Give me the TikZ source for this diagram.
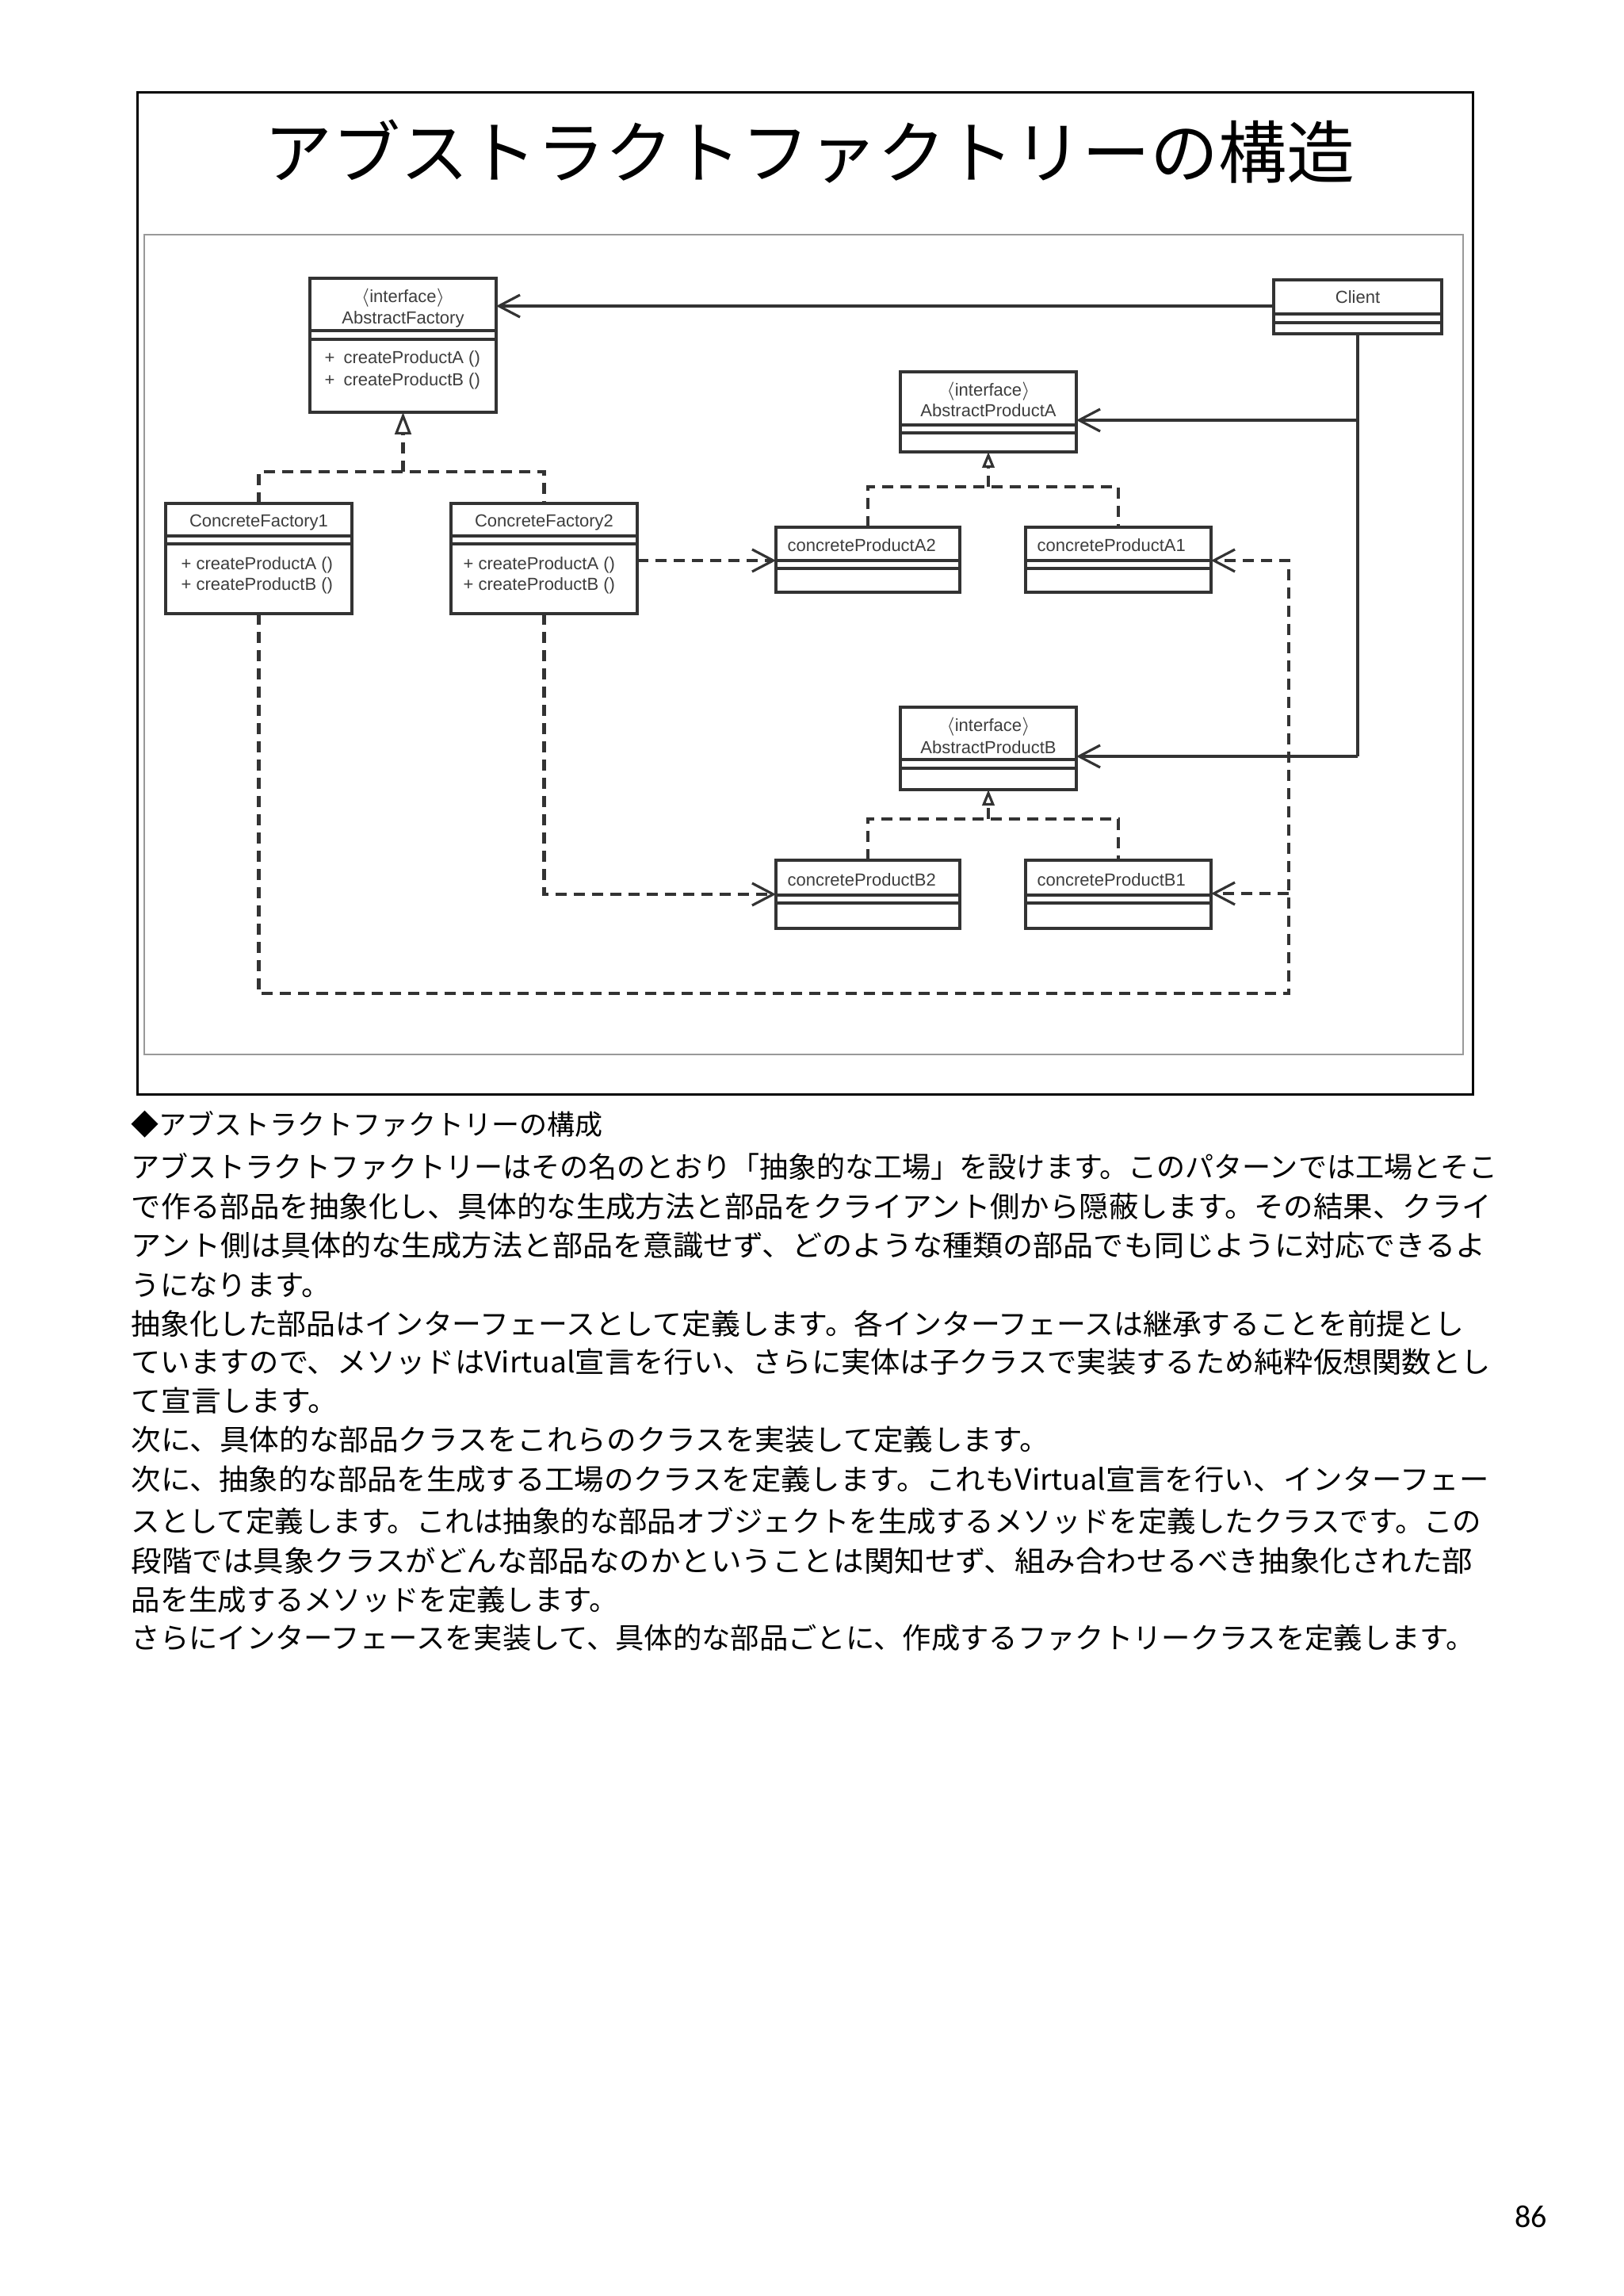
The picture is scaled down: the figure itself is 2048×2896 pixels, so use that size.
\documentclass[tikz,border=0pt]{standalone}
\usepackage{graphicx}
\usepackage{fontspec}
\setmainfont{Liberation Sans}
\newfontfamily\jp{Noto Sans CJK JP}
\newfontfamily\pagefont{Carlito}
\usetikzlibrary{arrows.meta}
\definecolor{lg}{gray}{0.2}
\definecolor{tg}{gray}{0.24}
\definecolor{fg}{gray}{0.6}
\newcommand\umlclass[7]{%
  \node[cls, minimum width={(#4-#2)*0.3pt}, minimum height={(#5-#3)*0.3pt}] (#1) at (#2,#3) {};
  \draw[cline] (#1.west |- 0,#6) -- (#1.east |- 0,#6);
  \draw[cline] (#1.west |- 0,#7) -- (#1.east |- 0,#7);
}
\begin{document}
\begin{tikzpicture}[x=0.3pt,y=-0.3pt,
  cls/.style={draw=lg, line width=1.1pt, inner sep=0pt, outer sep=0pt, anchor=north west, fill=white},
  cline/.style={draw=lg, line width=1.1pt},
  t/.style={font=\fontsize{6.6}{8}\selectfont, text=tg, inner sep=0pt, anchor=base},
  tl/.style={t, anchor=base west},
  sl/.style={draw=lg, line width=0.95pt},
  assoc/.style={sl, -{Straight Barb[length=8pt,width=8.4pt,line width=0.95pt]}},
  dl/.style={draw=lg, line width=1.45pt, dash pattern=on 4.2pt off 2.7pt},
  dep/.style={dl, -{Straight Barb[length=8pt,width=8.4pt,line width=0.95pt]}},
  realL/.style={dl, -{Triangle[open,fill=white,length=8.4pt,width=6.2pt,line width=0.95pt]}},
  realS/.style={dl, -{Triangle[open,fill=white,length=6pt,width=4.6pt,line width=0.95pt]}},
  body/.style={font=\jp\fontsize{10.9}{13}\selectfont, anchor=base west, inner sep=0pt}
]
\useasboundingbox (0,0) rectangle (2048,2896);
\fill[white] (0,0) rectangle (2048,2896);

% frames
\draw[line width=0.9pt] (173,117) rectangle (1858,1380);
\draw[fg, line width=0.6pt] (182,296) rectangle (1846,1330);

% title
\node[anchor=base west, inner sep=0pt, font=\jp\fontsize{25.8}{30}\selectfont] (title) at (333,225) {アブストラクトファクトリーの構造};

% classes
\umlclass{AF}{391}{351}{626}{520}{417}{428}
\umlclass{CFa}{209}{635}{444}{774}{676}{686}
\umlclass{CFb}{569}{635}{804}{774}{676}{686}
\umlclass{Client}{1607}{353}{1819}{421}{396}{407}
\umlclass{APA}{1136}{469}{1358}{570}{536}{546}
\umlclass{APB}{1136}{892}{1358}{996}{958}{969}
\umlclass{PAb}{979}{665}{1211}{747}{707}{717}
\umlclass{PAa}{1294}{665}{1528}{747}{707}{717}
\umlclass{PBb}{979}{1085}{1211}{1171}{1129}{1139}
\umlclass{PBa}{1294}{1085}{1528}{1171}{1129}{1139}

% class texts
\node[t] (AFs) at (508.5,382) {$\langle$interface$\rangle$};
\node[t] (AFn) at (508.5,409) {AbstractFactory};
\node[tl] (AFm1) at (409,459) {+\enspace createProductA ()};
\node[tl] (AFm2) at (409,487) {+\enspace createProductB ()};
\node[t] (CFan) at (326.5,665) {ConcreteFactory1};
\node[tl] (CFam1) at (228,718) {+ createProductA ()};
\node[tl] (CFam2) at (228,744) {+ createProductB ()};
\node[t] (CFbn) at (686.5,665) {ConcreteFactory2};
\node[tl] (CFbm1) at (584,718) {+ createProductA ()};
\node[tl] (CFbm2) at (584,744) {+ createProductB ()};
\node[t] (Clientn) at (1713,383) {Client};
\node[t] (APAs) at (1247,500) {$\langle$interface$\rangle$};
\node[t] (APAn) at (1247,526) {AbstractProductA};
\node[t] (APBs) at (1247,922) {$\langle$interface$\rangle$};
\node[t] (APBn) at (1247,950) {AbstractProductB};
\node[tl] (PAbn) at (993,695) {concreteProductA2};
\node[tl] (PAan) at (1308,695) {concreteProductA1};
\node[tl] (PBbn) at (993,1117) {concreteProductB2};
\node[tl] (PBan) at (1308,1117) {concreteProductB1};

% associations from Client
\coordinate (cA) at (1713,530);
\coordinate (cB) at (1713,954);
\draw[assoc] (Client.west |- 0,386) -- (AF.east |- 0,386);
\draw[sl] (Client.south) -- (cB);
\draw[assoc] (cA) -- (APA.east |- cA);
\draw[assoc] (cB) -- (APB.east |- cB);

% realizations
\coordinate (jF) at (508.5,595);
\draw[dl] (CFa.north) |- (jF) -| (CFb.north);
\draw[realL] (jF) -- (AF.south);
\coordinate (jA) at (1247,614);
\draw[dl] (PAb.north) |- (jA) -| (PAa.north);
\draw[realS] (jA) -- (APA.south);
\coordinate (jB) at (1247,1033);
\draw[dl] (PBb.north) |- (jB) -| (PBa.north);
\draw[realS] (jB) -- (APB.south);

% dependencies
\coordinate (r1) at (1626,1253);
\coordinate (r2) at (1626,1127);
\draw[dep] (CFa.south) |- (r1) |- (PAa.east |- 0,707);
\draw[dep] (r2) -- (PBa.east |- r2);
\draw[dep] (CFb.east |- 0,707) -- (PAb.west |- 0,707);
\draw[dep] (CFb.south) |- (PBb.west |- 0,1128);

% text block
\node[body, font=\jp\fontsize{10.5}{13}\selectfont] (h0) at (165,1431) {◆アブストラクトファクトリーの構成};
\node[body] (l1) at (165,1485) {\scalebox{0.992}[1]{アブストラクトファクトリーはその名のとおり「抽象的な工場」を設けます。このパターンでは工場とそこ}};
\node[body] (l2) at (165,1535) {\scalebox{1.030}[1]{で作る部品を抽象化し、具体的な生成方法と部品をクライアント側から隠蔽します。その結果、クライ}};
\node[body] (l3) at (165,1584) {\scalebox{1.048}[1]{アント側は具体的な生成方法と部品を意識せず、どのような種類の部品でも同じように対応できるよ}};
\node[body] (l4) at (165,1634) {うになります。};
\node[body] (l5) at (165,1683) {\scalebox{1.014}[1]{抽象化した部品はインターフェースとして定義します。各インターフェースは継承することを前提とし}};
\node[body] (l6) at (165,1731) {\scalebox{1.026}[1]{ていますので、メソッドはVirtual宣言を行い、さらに実体は子クラスで実装するため純粋仮想関数とし}};
\node[body] (l7) at (165,1780) {\scalebox{1.04}[1]{て宣言します。}};
\node[body] (l8) at (165,1829) {\scalebox{1.035}[1]{次に、具体的な部品クラスをこれらのクラスを実装して定義します。}};
\node[body] (l9) at (165,1879) {\scalebox{1.028}[1]{次に、抽象的な部品を生成する工場のクラスを定義します。これもVirtual宣言を行い、インターフェー}};
\node[body] (l10) at (165,1932) {\scalebox{1.003}[1]{スとして定義します。これは抽象的な部品オブジェクトを生成するメソッドを定義したクラスです。この}};
\node[body] (l11) at (165,1982) {\scalebox{1.061}[1]{段階では具象クラスがどんな部品なのかということは関知せず、組み合わせるべき抽象化された部}};
\node[body] (l12) at (165,2031) {品を生成するメソッドを定義します。};
\node[body] (l13) at (165,2079) {さらにインターフェースを実装して、具体的な部品ごとに、作成するファクトリークラスを定義します。};

% page number
\node[anchor=base west, inner sep=0pt, font=\pagefont\fontsize{12}{14}\selectfont] (pnum) at (1911,2809) {86};
\end{tikzpicture}
\end{document}
